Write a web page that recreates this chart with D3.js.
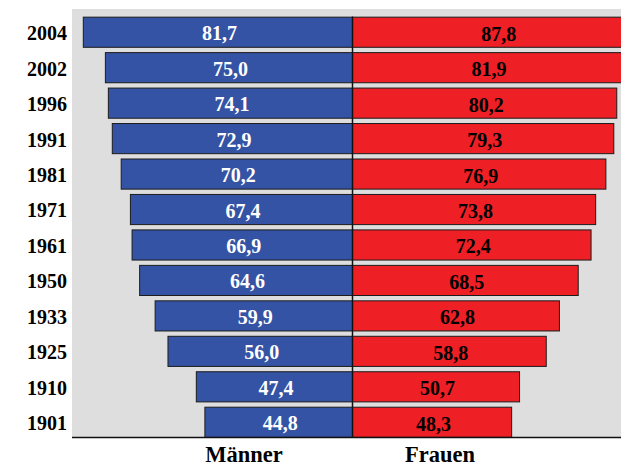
<!DOCTYPE html>
<html>
<head>
<meta charset="utf-8">
<script src="https://cdn.jsdelivr.net/npm/d3@7"></script>
<style>
  html, body { margin: 0; padding: 0; background: #ffffff; }
  svg { display: block; }
  text { font-family: "Liberation Serif", "Times New Roman", serif; font-weight: bold; }
</style>
</head>
<body>
<svg id="chart" width="621" height="466"></svg>
<script>
// Lebenserwartung bei Geburt nach Geschlecht
const years   = ["2004", "2002", "1996", "1991", "1981", "1971", "1961", "1950", "1933", "1925", "1910", "1901"];
const maenner = [81.7, 75.0, 74.1, 72.9, 70.2, 67.4, 66.9, 64.6, 59.9, 56.0, 47.4, 44.8];
const frauen  = [87.8, 81.9, 80.2, 79.3, 76.9, 73.8, 72.4, 68.5, 62.8, 58.8, 50.7, 48.3];
const sideLabels = ["Männer", "Frauen"];

const W = 621, H = 466;
const plot = { left: 72, right: 621, top: 9, bottom: 437.5 };
const center = 352;
const pxPerYear = 3.295;

const svg = d3.select("#chart");

const fmt = v => d3.format(".1f")(v).replace(".", ",");

// Horizontal scales: men grow to the left, women to the right of the centre line
const xLeft  = d3.scaleLinear().domain([0, 100]).range([center, center - 100 * pxPerYear]);
const xRight = d3.scaleLinear().domain([0, 100]).range([center, center + 100 * pxPerYear]);
const y = d3.scaleBand().domain(years).range([14, 439.5]).paddingInner(0.15).paddingOuter(0.075);

// Plot background
svg.append("rect")
  .attr("x", plot.left).attr("y", plot.top)
  .attr("width", plot.right - plot.left).attr("height", plot.bottom - plot.top)
  .attr("fill", "#dedede");

svg.append("defs").append("clipPath").attr("id", "plotClip")
  .append("rect")
  .attr("x", plot.left).attr("y", plot.top)
  .attr("width", plot.right - plot.left).attr("height", plot.bottom - plot.top);

const g = svg.append("g").attr("clip-path", "url(#plotClip)");

const rows = years.map((yr, i) => ({ year: yr, m: maenner[i], f: frauen[i] }));

// Men bars
g.selectAll("rect.m").data(rows).join("rect")
  .attr("class", "m")
  .attr("x", d => xLeft(d.m) + 0.5)
  .attr("y", d => y(d.year) + 0.5)
  .attr("width", d => center - xLeft(d.m))
  .attr("height", y.bandwidth())
  .attr("fill", "#3553a4")
  .attr("stroke", "#1c1c1c")
  .attr("stroke-width", 1);

// Women bars
g.selectAll("rect.f").data(rows).join("rect")
  .attr("class", "f")
  .attr("x", center + 0.5)
  .attr("y", d => y(d.year) + 0.5)
  .attr("width", d => xRight(d.f) - center)
  .attr("height", y.bandwidth())
  .attr("fill", "#ee1f25")
  .attr("stroke", "#1c1c1c")
  .attr("stroke-width", 1);

// Value labels
g.selectAll("text.mv").data(rows).join("text")
  .attr("class", "mv")
  .attr("x", d => (xLeft(d.m) + center) / 2 + 2)
  .attr("y", d => y(d.year) + y.bandwidth() / 2 + 8.5)
  .attr("text-anchor", "middle")
  .attr("font-size", 20)
  .attr("fill", "#ffffff")
  .text(d => fmt(d.m));

g.selectAll("text.fv").data(rows).join("text")
  .attr("class", "fv")
  .attr("x", d => (xRight(d.f) + center) / 2 + 2)
  .attr("y", d => y(d.year) + y.bandwidth() / 2 + 9)
  .attr("text-anchor", "middle")
  .attr("font-size", 20)
  .attr("fill", "#000000")
  .text(d => fmt(d.f));

// Centre line and bottom axis line
svg.append("line")
  .attr("x1", center + 0.5).attr("x2", center + 0.5)
  .attr("y1", y(years[0])).attr("y2", plot.bottom)
  .attr("stroke", "#111").attr("stroke-width", 1.5);

svg.append("line")
  .attr("x1", plot.left).attr("x2", plot.right)
  .attr("y1", plot.bottom).attr("y2", plot.bottom)
  .attr("stroke", "#111").attr("stroke-width", 1.5);

// Year labels
const yAxis = d3.axisLeft(y).tickSize(0).tickPadding(0);
const ya = svg.append("g").attr("transform", "translate(67,0)").call(yAxis);
ya.select(".domain").remove();
ya.selectAll("text")
  .attr("font-family", "Liberation Serif, Times New Roman, serif")
  .attr("font-weight", "bold")
  .attr("font-size", 20)
  .attr("fill", "#000")
  .attr("dy", "0.42em");

// Side titles below the plot
svg.selectAll("text.side").data(sideLabels).join("text")
  .attr("class", "side")
  .attr("x", (d, i) => i === 0 ? 244 : 440)
  .attr("y", 462)
  .attr("text-anchor", "middle")
  .attr("font-size", 22.5)
  .attr("fill", "#000")
  .text(d => d);
</script>
</body>
</html>
